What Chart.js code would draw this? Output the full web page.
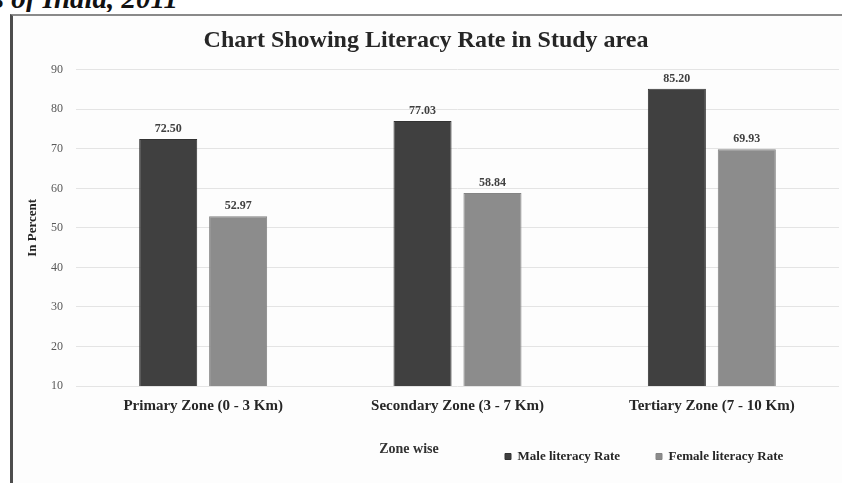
<!DOCTYPE html>
<html>
<head>
<meta charset="utf-8">
<script src="https://cdn.jsdelivr.net/npm/chart.js@4/dist/chart.umd.min.js"></script>
<style>
  body { margin: 0; background: #ffffff; }
  .source {
    position: absolute; left: 0; top: -18px; width: 178px; height: 30px;
    overflow: hidden;
  }
  .source span {
    position: absolute; right: 0; top: 0; white-space: nowrap; line-height: 33px;
    font: italic bold 29px "Liberation Serif", serif; color: #111;
  }
  .frame {
    position: absolute; left: 10px; top: 14px; width: 829px; height: 467px;
    border-left: 3px solid #4d4d4d; border-top: 2px solid #8a8a8a;
    background: #fdfdfd;
  }
</style>
</head>
<body>
<div class="source"><span>Census of India, 2011</span></div>
<div class="frame"><canvas id="literacyChart" width="829" height="467"></canvas></div>
<script>
const zones = ["Primary Zone (0 - 3 Km)", "Secondary Zone (3 - 7 Km)", "Tertiary Zone (7 - 10 Km)"];
const maleRate = [72.50, 77.03, 85.20];
const femaleRate = [52.97, 58.84, 69.93];
const yTicks = [10, 20, 30, 40, 50, 60, 70, 80, 90];

const SERIF = '"Liberation Serif", "Times New Roman", serif';

// values above each bar
const valueLabels = {
  id: "valueLabels",
  afterDatasetsDraw(chart) {
    const ctx = chart.ctx;
    ctx.save();
    ctx.font = "bold 12px " + SERIF;
    ctx.fillStyle = "#404040";
    ctx.textAlign = "center";
    ctx.textBaseline = "alphabetic";
    chart.data.datasets.forEach((ds, i) => {
      chart.getDatasetMeta(i).data.forEach((bar, j) => {
        ctx.fillText(ds.data[j].toFixed(2), bar.x, bar.y - 7);
      });
    });
    ctx.restore();
  },
};

// legend sits to the right, "Zone wise" on the same row
const legendRow = {
  id: "legendRow",
  afterLayout(chart) {
    const lg = chart.legend;
    const w = lg.width;
    lg.left = 492 - lg.options.labels.padding;
    lg.right = lg.left + w;
    lg.top -= 10;
    lg.bottom -= 10;
  },
  afterDraw(chart) {
    const ctx = chart.ctx;
    ctx.save();
    ctx.font = "bold 14px " + SERIF;
    ctx.fillStyle = "#333333";
    ctx.textAlign = "center";
    ctx.textBaseline = "middle";
    ctx.fillText("Zone wise", 396, 433);
    ctx.restore();
  },
};

const ctx = document.getElementById("literacyChart").getContext("2d");

new Chart(ctx, {
  type: "bar",
  data: {
    labels: zones,
    datasets: [
      {
        label: "Male literacy Rate",
        data: maleRate,
        backgroundColor: "#404040",
        borderColor: "#333333",
        borderWidth: 1,
      },
      {
        label: "Female literacy Rate",
        data: femaleRate,
        backgroundColor: "#8c8c8c",
        borderColor: "#848484",
        borderWidth: 1,
      },
    ],
  },
  options: {
    responsive: false,
    animation: false,
    categoryPercentage: 0.55,
    barPercentage: 0.83,
    layout: { padding: { left: 0, right: 3, top: 0, bottom: 0 } },
    plugins: {
      title: {
        display: true,
        text: "Chart Showing Literacy Rate in Study area",
        color: "#262626",
        font: { family: SERIF, size: 24, weight: "bold" },
        padding: { top: 10, bottom: 15 },
      },
      legend: {
        position: "bottom",
        align: "start",
        labels: {
          boxWidth: 6,
          boxHeight: 6,
          padding: 36,
          color: "#262626",
          font: { family: SERIF, size: 13, weight: "bold" },
        },
      },
      tooltip: { enabled: false },
    },
    scales: {
      x: {
        grid: { display: false },
        border: { display: false },
        ticks: {
          color: "#262626",
          padding: 3,
          font: { family: SERIF, size: 15, weight: "bold" },
        },
        afterFit: (scale) => {
          scale.height = 38;
        },
      },
      y: {
        min: 10,
        max: 90,
        afterBuildTicks: (scale) => {
          scale.ticks = yTicks.map((v) => ({ value: v }));
        },
        grid: { color: "#e4e4e4", drawTicks: false },
        border: { display: false },
        ticks: {
          color: "#595959",
          padding: 13,
          font: { family: SERIF, size: 12 },
        },
        title: {
          display: true,
          text: "In Percent",
          color: "#262626",
          font: { family: SERIF, size: 13, weight: "bold" },
          padding: { top: 12, bottom: 0 },
        },
        afterFit: (scale) => {
          scale.width = 63;
        },
      },
    },
  },
  plugins: [valueLabels, legendRow],
});
</script>
</body>
</html>
